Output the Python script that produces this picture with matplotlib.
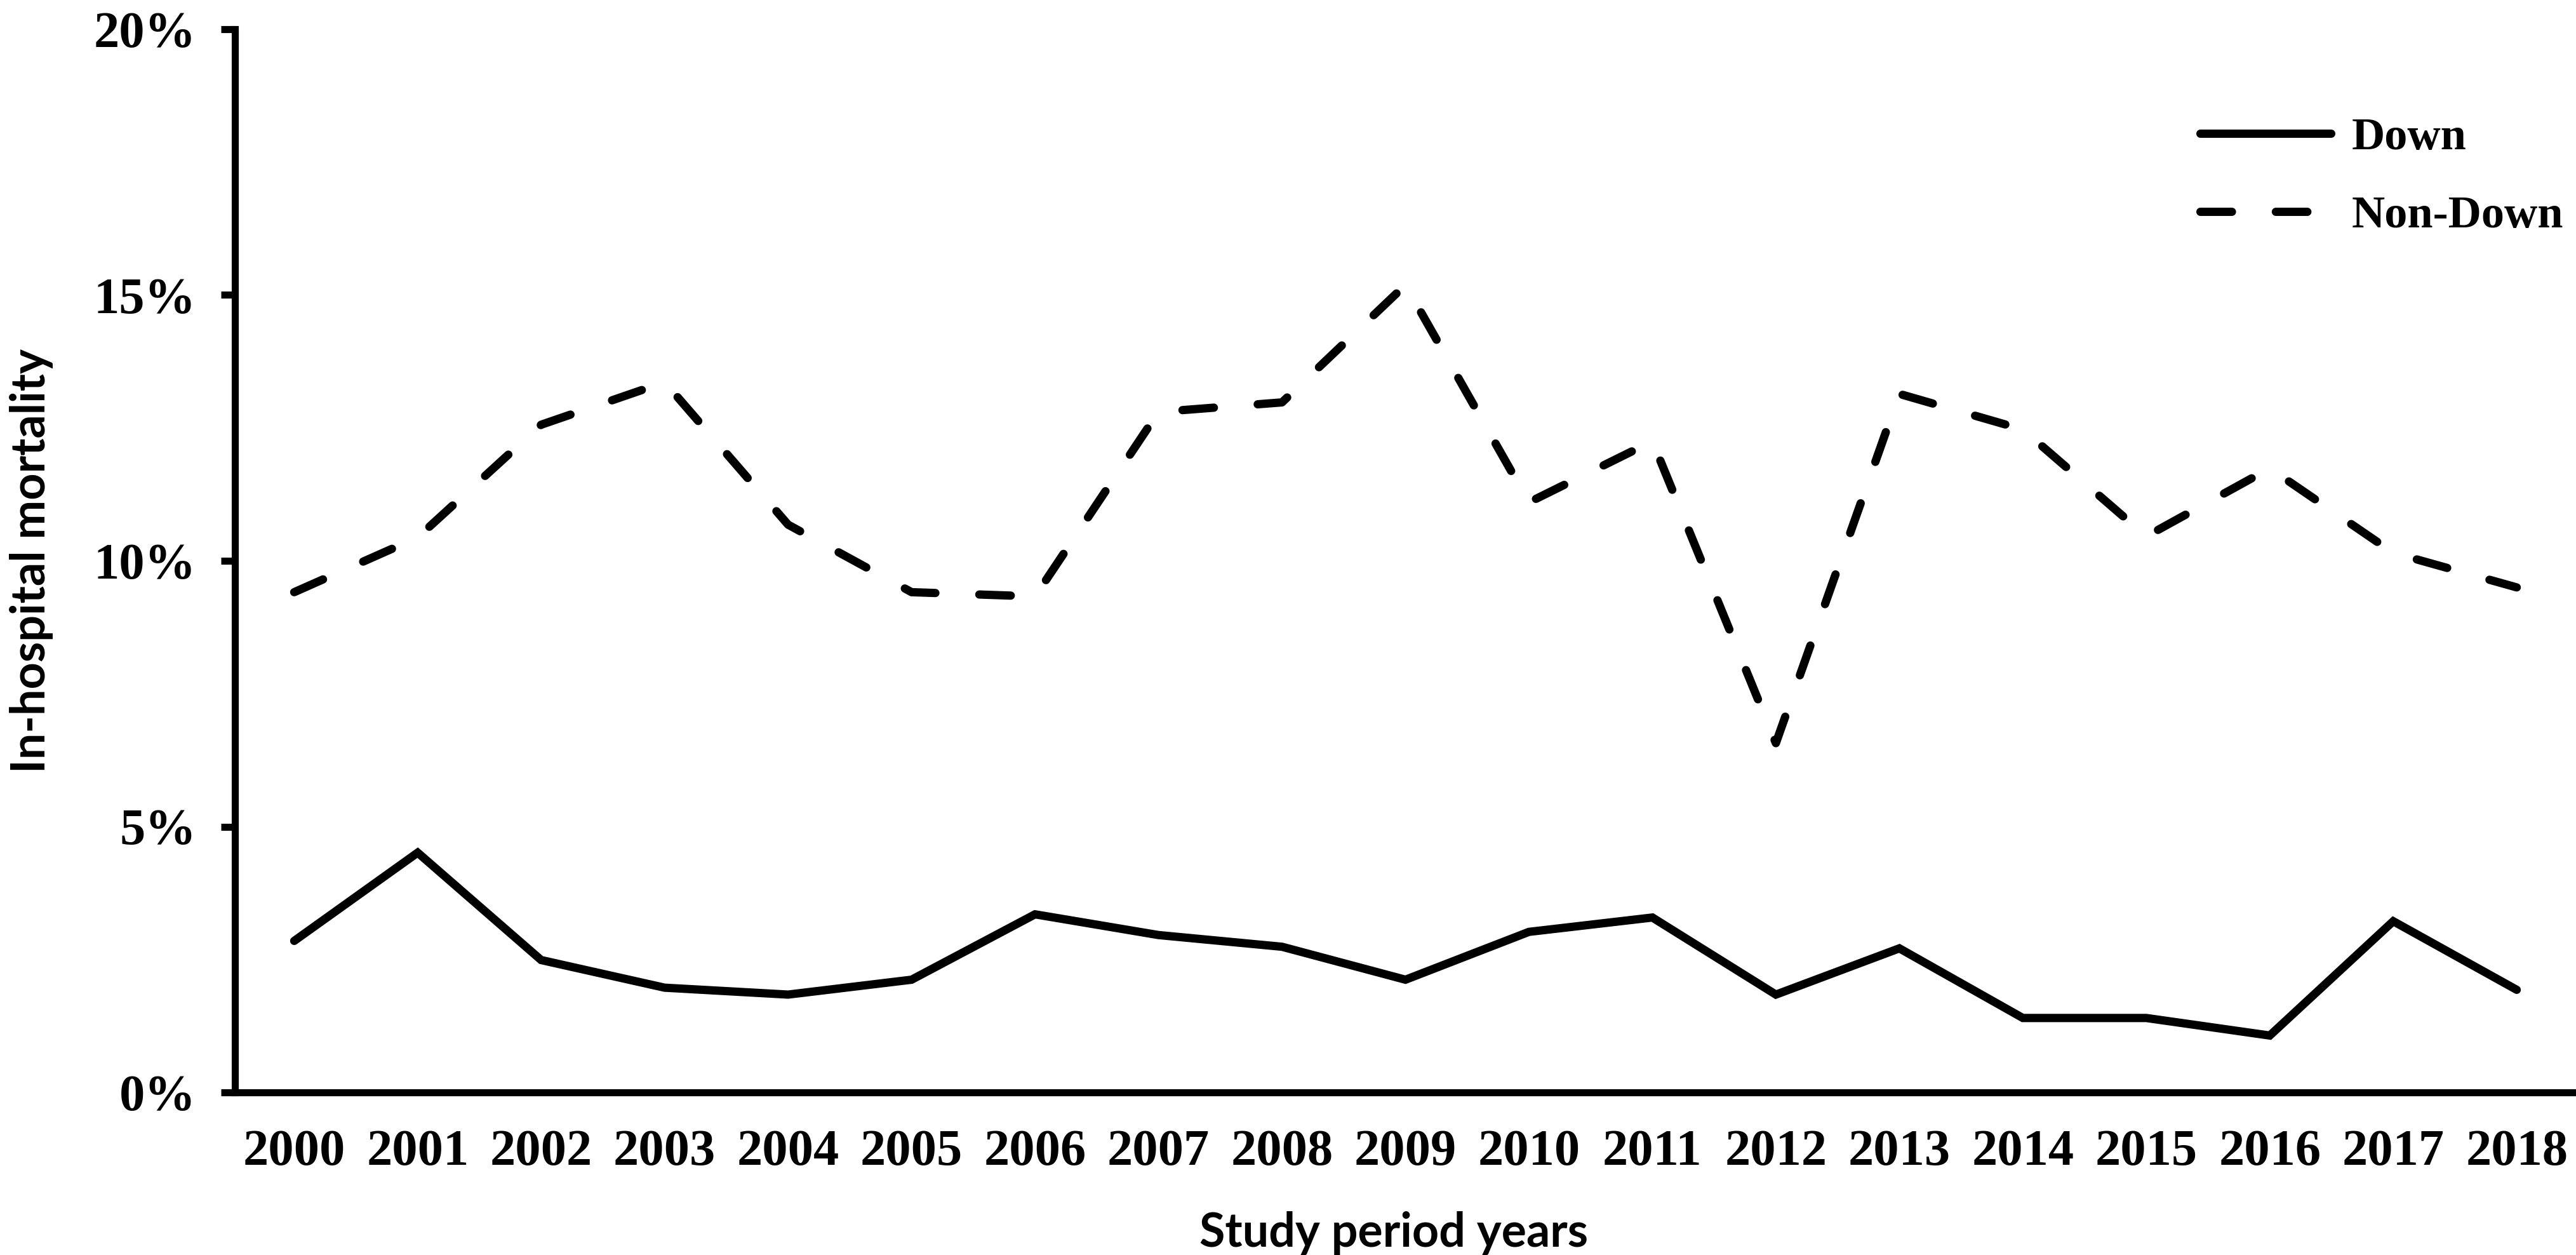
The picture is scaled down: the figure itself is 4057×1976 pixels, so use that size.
import matplotlib
matplotlib.use("Agg")
import matplotlib.pyplot as plt

years = [2000, 2001, 2002, 2003, 2004, 2005, 2006, 2007, 2008, 2009,
         2010, 2011, 2012, 2013, 2014, 2015, 2016, 2017, 2018]
down = [2.85, 4.51, 2.49, 1.97, 1.84, 2.12, 3.35, 2.96, 2.74, 2.12,
        3.02, 3.29, 1.84, 2.71, 1.40, 1.40, 1.07, 3.22, 1.93]
non_down = [9.41, 10.44, 12.56, 13.36, 10.68, 9.41, 9.33, 12.80, 12.98, 15.19,
            11.10, 12.25, 6.57, 13.14, 12.47, 10.46, 11.74, 10.15, 9.50]
y_ticks = [0, 5, 10, 15, 20]
y_tick_labels = ["0%", "5%", "10%", "15%", "20%"]
series_names = ["Down", "Non-Down"]

W, H, DPI = 4057, 1976, 200
fig = plt.figure(figsize=(W / DPI, H / DPI), dpi=DPI)
ax = fig.add_axes([370 / W, (H - 1720) / H, (W - 370) / W, (1720 - 46) / H])

lw = 4.7
ax.plot(years, down, color="black", lw=lw, solid_capstyle="round",
        solid_joinstyle="miter", label=series_names[0])
ax.plot(years, non_down, color="black", lw=lw, linestyle=(0, (3.8, 5.3)),
        dash_capstyle="round", dash_joinstyle="round", label=series_names[1])

ax.set_xlim(1999.52, 2018.48)
ax.set_ylim(0, 20)
ax.set_xticks(years)
ax.set_xticklabels([str(y) for y in years])
ax.set_yticks(y_ticks)
ax.set_yticklabels(y_tick_labels)

for s in ["top", "right"]:
    ax.spines[s].set_visible(False)
for s in ["left", "bottom"]:
    ax.spines[s].set_linewidth(4.0)
    ax.spines[s].set_color("black")

ax.tick_params(axis="x", length=0, pad=21)
ax.tick_params(axis="y", length=8, width=4.0, direction="out", pad=14, color="black")
for lab in ax.get_xticklabels() + ax.get_yticklabels():
    lab.set_fontfamily("Liberation Serif")
    lab.set_fontweight("bold")
    lab.set_fontsize(29)
    lab.set_color("black")

label_font = dict(family="Lato", weight="bold", size=26.5)
ax.set_ylabel("In-hospital mortality", va="center", **label_font)
ax.yaxis.set_label_coords((50 - 370) / (W - 370), 0.5)
ax.set_xlabel("Study period years", va="center", **label_font)
ax.xaxis.set_label_coords(0.495, -(1941 - 1720) / (1720 - 46))

leg = fig.legend(loc="center left", bbox_to_anchor=(3465 / W, 1 - 279 / H),
                 frameon=False, borderpad=0, borderaxespad=0,
                 handlelength=2.85, handletextpad=0.45, labelspacing=0.8,
                 prop=dict(family="Liberation Serif", weight="bold", size=26))
for t in leg.get_texts():
    t.set_color("black")

fig.savefig("out.png", dpi=DPI)
